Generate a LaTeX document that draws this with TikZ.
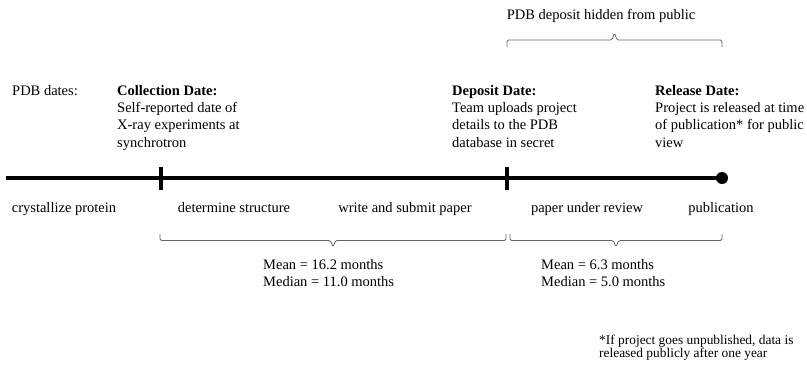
\documentclass[tikz,border=0pt]{standalone}
\usepackage{fontspec}
\setmainfont{Liberation Serif}
\usetikzlibrary{positioning}
\usetikzlibrary{calc}

% bracket spanning x1..x2, ends at y, depth d (sign gives direction)
\newcommand{\spanbracket}[4]{%
  \draw[bracket] (#1,#3) -- (#1,{#3+(#4)}) -- ({(#1+#2)/2-2.5},{#3+(#4)})
    -- ({(#1+#2)/2},{#3+2*(#4)}) -- ({(#1+#2)/2+2.5},{#3+(#4)})
    -- (#2,{#3+(#4)}) -- (#2,#3);}

\begin{document}
\begin{tikzpicture}[x=1pt,y=-1pt]
 \tikzstyle{label node}=[inner sep=0,font=\fontsize{14.5}{17.3}\selectfont]
 \tikzstyle{date node}=[label node,align=left,anchor=north west]
 \tikzstyle{stage node}=[label node,anchor=base]
 \tikzset{
   timeline/.style={line width=4.5pt},
   tick/.style={line width=3.5pt},
   bracket/.style={draw=black!60,line width=0.8pt,rounded corners=1.5pt},
   note node/.style={inner sep=0,align=left,anchor=north west,
                     font=\fontsize{13.4}{13.2}\selectfont}
 }
 \useasboundingbox (0,0) rectangle (807,365);

 \coordinate (start) at (6,178);
 \coordinate (collect) at (161,178);
 \coordinate (deposit) at (507,178);
 \coordinate (release) at (722,178);

 \draw[timeline] (start) -- (release);
 \draw[tick] ($(collect)+(0,-11)$) -- ($(collect)+(0,12)$);
 \draw[tick] ($(deposit)+(0,-11)$) -- ($(deposit)+(0,12)$);
 \fill (release) circle (6);

 \node[label node,anchor=base west] (pdbdates) at (12,95) {PDB dates:};
 \node[date node] (collectnote) at (117,85) {\textbf{Collection Date:}\\Self-reported date of\\X-ray experiments at\\synchrotron};
 \node[date node] (depositnote) at (452,85) {\textbf{Deposit Date:}\\Team uploads project\\details to the PDB\\database in secret};
 \node[date node] (releasenote) at (655,85) {\textbf{Release Date:}\\Project is released at time\\of publication* for public\\view};

 \node[stage node] (hidden) at (601,19) {PDB deposit hidden from public};
 \spanbracket{507}{722}{47}{-7}

 \node[stage node] (crystallize) at (64,212) {crystallize protein};
 \node[stage node] (determine) at (234,212) {determine structure};
 \node[stage node] (write) at (405,212) {write and submit paper};
 \node[stage node] (review) at (587,212) {paper under review};
 \node[stage node] (publication) at (721,212) {publication};

 \spanbracket{160}{506}{234}{6.5}
 \spanbracket{510}{722}{234}{6.5}

 \node[date node] (predeposit) at (263,259) {Mean = 16.2 months\\Median = 11.0 months};
 \node[date node] (underreview) at (541,259) {Mean = 6.3 months\\Median = 5.0 months};

 \node[note node] (footnote) at (599,335) {*If project goes unpublished, data is\\released publicly after one year};
\end{tikzpicture}
\end{document}
